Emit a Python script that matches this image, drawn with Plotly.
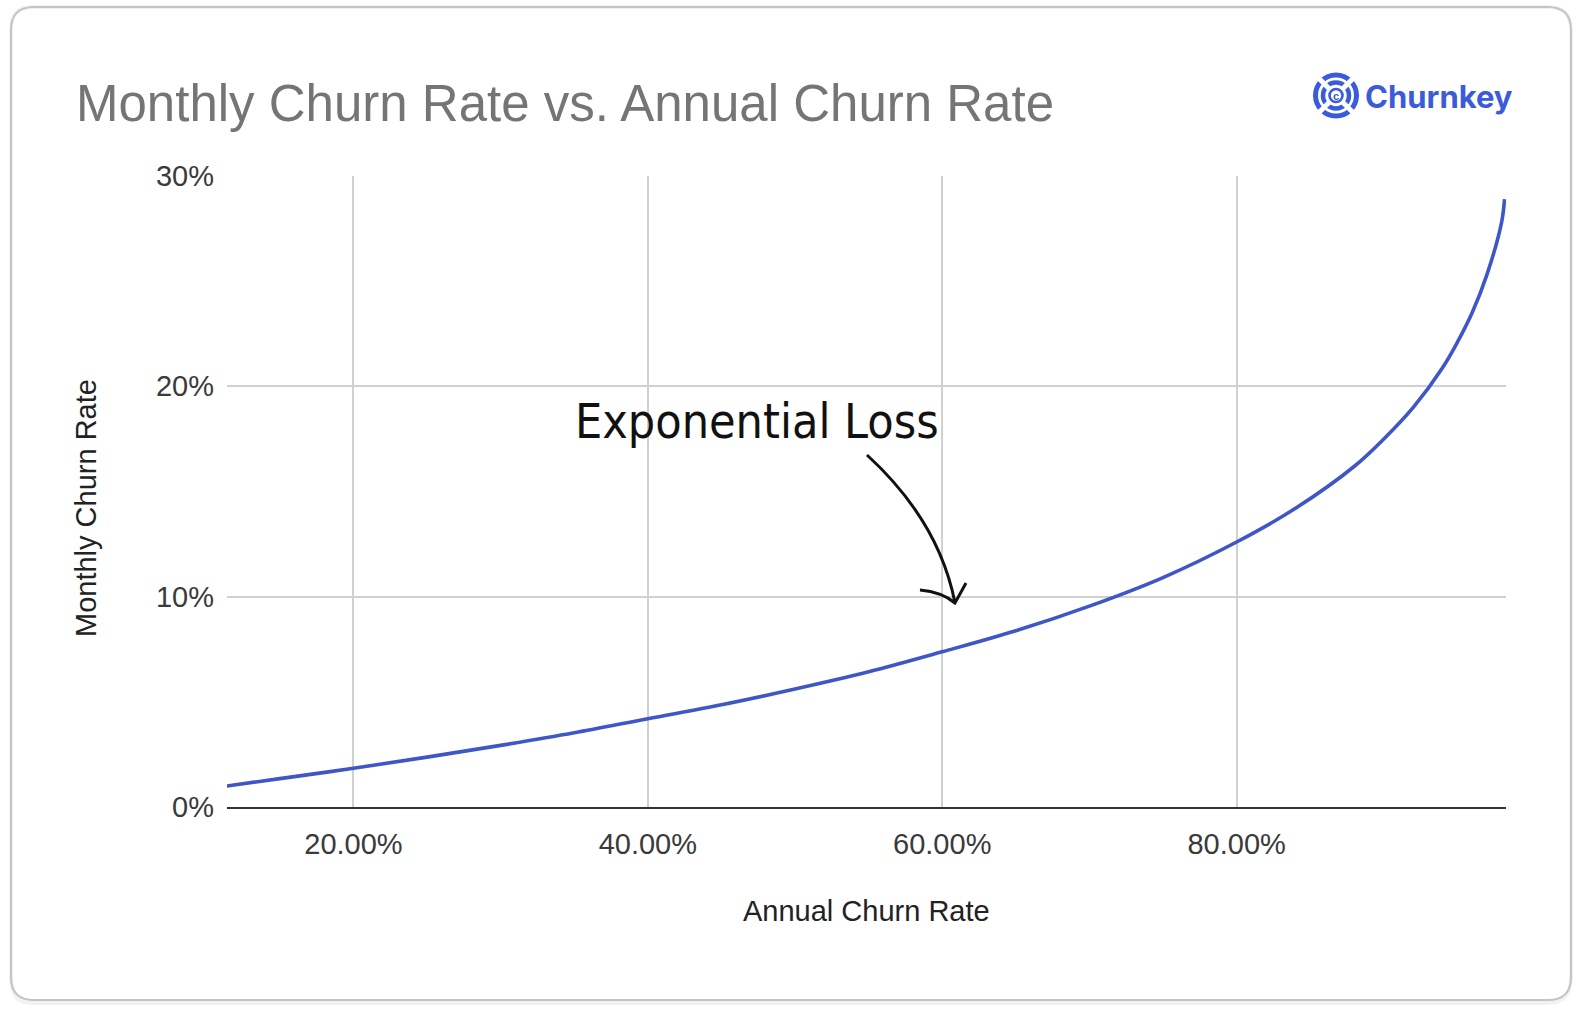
import plotly.graph_objects as go

# values (both in %)
annual_churn = [11.4, 15, 20, 25, 30, 35, 40, 45, 50, 55, 60, 65, 70, 75, 80,
                84, 88, 90, 92, 94, 95, 96, 97, 98, 98.2]
monthly_churn = [1.0, 1.35, 1.84, 2.37, 2.93, 3.53, 4.2, 4.86, 5.61, 6.43, 7.38, 8.38,
                 9.55, 10.91, 12.6, 14.2, 16.2, 17.5, 19.0, 20.9, 22.1, 23.5, 25.3,
                 27.8, 28.9]

x_ticks = [20, 40, 60, 80]
x_labels = ["20.00%", "40.00%", "60.00%", "80.00%"]
y_ticks = [0, 10, 20, 30]
y_labels = ["0%", "10%", "20%", "30%"]

W, H = 1582, 1016
L, R, T, B = 227, 76, 176, 209
PW, PH = W - L - R, H - T - B

FONT = "Liberation Sans, Arial, sans-serif"
BLUE = "#3f56c7"
LOGO = "#3b5bdb"


def px(x, y):
    # screen pixel -> offset from paper (0,0) anchor (y up)
    return x - L, (H - B) - y


def paper(x, y):
    return (x - L) / PW, ((H - B) - y) / PH


fig = go.Figure()

fig.add_trace(go.Scatter(
    x=annual_churn, y=monthly_churn,
    mode="lines",
    line=dict(color=BLUE, width=3.6, shape="spline"),
    hoverinfo="skip",
    showlegend=False
))

shapes = []

# card with rounded corners
x0, y1 = px(11, 7)
x1, y0 = px(1571, 1000)
r = 23
card = (f"M {x0+r},{y1} L {x1-r},{y1} Q {x1},{y1} {x1},{y1-r} "
        f"L {x1},{y0+r} Q {x1},{y0} {x1-r},{y0} "
        f"L {x0+r},{y0} Q {x0},{y0} {x0},{y0+r} "
        f"L {x0},{y1-r} Q {x0},{y1} {x0+r},{y1} Z")
shadow = card.replace(f"{y0}", f"{y0-3}")
for p, c, w in [(shadow, "rgba(0,0,0,0.05)", 4), (card, "#c4c4c4", 2)]:
    shapes.append(dict(type="path", path=p, xref="paper", yref="paper",
                       xsizemode="pixel", ysizemode="pixel", xanchor=0, yanchor=0,
                       line=dict(color=c, width=w), layer="below"))

# hand drawn arrow
a0 = px(867, 455)
a1 = px(939, 521)
a2 = px(955, 603)
w0 = px(920, 590)
w1 = px(942, 592)
w2 = px(966, 583)
arrow = (f"M {a0[0]},{a0[1]} Q {a1[0]},{a1[1]} {a2[0]},{a2[1]} "
         f"M {w0[0]},{w0[1]} Q {w1[0]},{w1[1]} {a2[0]},{a2[1]} L {w2[0]},{w2[1]}")
shapes.append(dict(type="path", path=arrow, xref="paper", yref="paper",
                   xsizemode="pixel", ysizemode="pixel", xanchor=0, yanchor=0,
                   line=dict(color="#111111", width=3)))

# logo icon
cx, cy = 1336, 95.5
ax, ay = paper(cx, cy)
for rad, lw in [(20.5, 5), (13, 4.5), (6.5, 2.6)]:
    shapes.append(dict(type="circle", xref="paper", yref="paper",
                       xsizemode="pixel", ysizemode="pixel", xanchor=ax, yanchor=ay,
                       x0=-rad, x1=rad, y0=-rad, y1=rad,
                       line=dict(color=LOGO, width=lw)))
for sx, sy in [(1, 1), (1, -1), (-1, 1), (-1, -1)]:
    shapes.append(dict(type="line", xref="paper", yref="paper",
                       xsizemode="pixel", ysizemode="pixel", xanchor=ax, yanchor=ay,
                       x0=sx * 7, y0=sy * 7, x1=sx * 19, y1=sy * 19,
                       line=dict(color="white", width=5)))

annotations = []


def note(text, x, y, size, color, xanchor="left", angle=0, family=FONT):
    px_, py_ = paper(x, y)
    annotations.append(dict(text=text, x=px_, y=py_, xref="paper", yref="paper",
                            xanchor=xanchor, yanchor="middle", showarrow=False,
                            textangle=angle,
                            font=dict(family=family, size=size, color=color)))


note("Monthly Churn Rate vs. Annual Churn Rate", 74, 104, 51, "#757575")
note("<b>Churnkey</b>", 1363, 96, 31, LOGO, family="Inter, Liberation Sans, sans-serif")
note("<b>c</b>", cx, cy, 11, LOGO, xanchor="center")
note("Annual Churn Rate", 866, 911, 29, "#222222", xanchor="center")
note("Monthly Churn Rate", 86, 508, 29, "#222222", xanchor="center", angle=-90)
note("Exponential Loss", 757, 421, 48, "#111111", xanchor="center",
     family="Liberation Sans Narrow, DejaVu Sans Condensed, Liberation Sans")

fig.update_layout(
    width=W, height=H,
    margin=dict(l=L, r=R, t=T, b=B),
    paper_bgcolor="white",
    plot_bgcolor="white",
    shapes=shapes,
    annotations=annotations,
    font=dict(family=FONT, size=29, color="#444444"),
    xaxis=dict(
        range=[11.41, 98.3],
        tickvals=x_ticks,
        ticktext=x_labels,
        showgrid=True, gridcolor="#d0d0d0", gridwidth=2,
        zeroline=False,
        showline=True, linecolor="#333333", linewidth=2,
        ticklabelstandoff=10,
        tickfont=dict(size=29, color="#3a3a3a"),
    ),
    yaxis=dict(
        range=[0, 30],
        tickvals=y_ticks,
        ticktext=y_labels,
        showgrid=True, gridcolor="#d0d0d0", gridwidth=2,
        zeroline=False,
        ticklabelstandoff=12,
        tickfont=dict(size=29, color="#3a3a3a"),
    ),
)

fig.write_html("out.html", config={"displayModeBar": False},
               post_script="document.body.style.margin='0';")
